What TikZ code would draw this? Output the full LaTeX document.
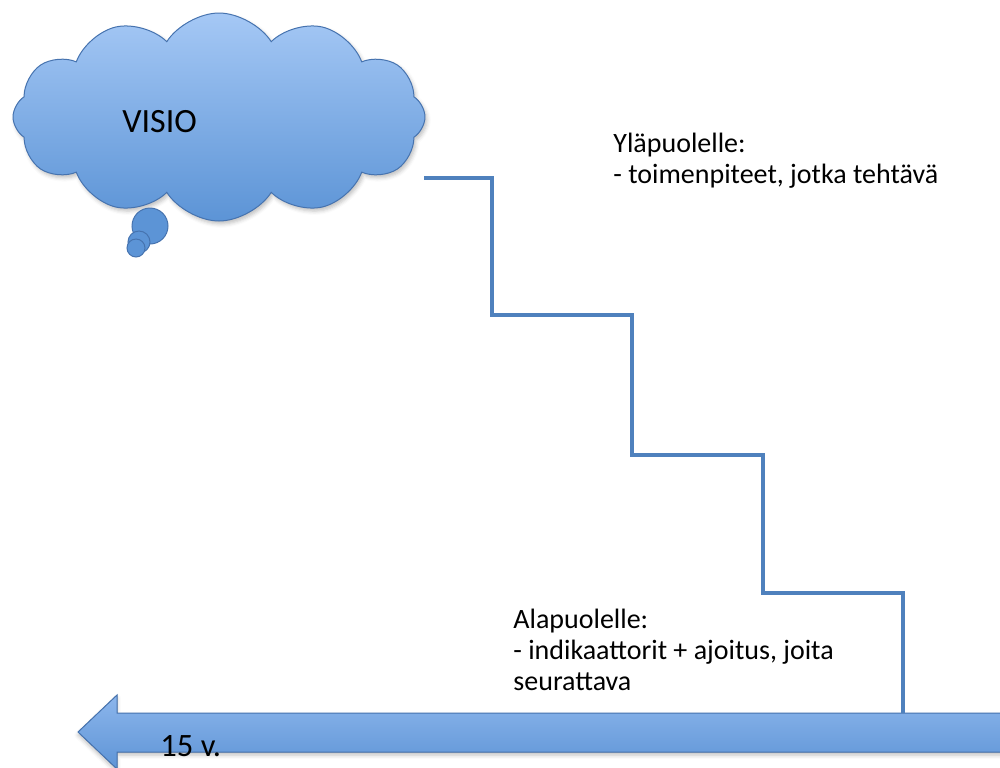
\documentclass[tikz,border=0pt]{standalone}
\usepackage{fontspec}
\setmainfont{Carlito}
\usetikzlibrary{shapes.symbols,shadows.blur}
\definecolor{lineblue}{RGB}{79,129,189}
\definecolor{edgeblue}{RGB}{70,115,175}
\definecolor{lighttop}{RGB}{165,200,245}
\definecolor{darkbottom}{RGB}{92,148,214}
\definecolor{arrowtop}{RGB}{140,182,236}
\definecolor{arrowbottom}{RGB}{94,148,214}
\tikzset{
  px/.style={x=0.5pt,y=-0.5pt},
  stair/.style={draw=lineblue,line width=1.6pt,line join=miter},
  bubble/.style={draw=edgeblue,line width=0.5pt,top color=lighttop,bottom color=darkbottom},
  tailbubble/.style={circle,draw=edgeblue,line width=0.5pt,fill=darkbottom,inner sep=0pt},
  label/.style={anchor=base west,align=left,inner sep=0pt,font=\fontsize{14}{15.5}\selectfont},
}
\begin{document}
\begin{tikzpicture}[px]
\useasboundingbox (0,0) rectangle (1000,767);

% thought cloud with its trailing bubbles
\node[cloud,cloud puffs=12,cloud puff arc=115,aspect=2.1,bubble,
      minimum width=206pt,minimum height=104pt,inner sep=0pt,
      blur shadow={shadow xshift=1pt,shadow yshift=-1.5pt,shadow opacity=25}] (cloud) at (219,117) {};
\node[tailbubble,minimum size=18pt] (b1) at (150,226) {};
\node[tailbubble,minimum size=11pt] (b2) at (139,242) {};
\node[tailbubble,minimum size=9pt] (b3) at (136,248) {};
\node[anchor=base west,inner sep=0pt,font=\fontsize{17}{20}\selectfont] (visio) at (122,132) {VISIO};

% time axis arrow pointing left
\fill[top color=arrowtop,bottom color=arrowbottom,draw=edgeblue,line width=0.5pt,
      blur shadow={shadow xshift=0pt,shadow yshift=-1.5pt,shadow opacity=25}]
  (78,732) -- (117,695) -- (117,713) -- (1005,713) -- (1005,752) -- (117,752) -- (117,769) -- cycle;
\coordinate (axis) at (903,713);
\node[anchor=base west,inner sep=0pt,font=\fontsize{16.3}{19}\selectfont] (years) at (160,756) {15 v.};

% staircase descending from the vision to the axis
\coordinate (s0) at (424,178);
\draw[stair] (s0) -- (492,178) -- (492,315) -- (632,315) -- (632,455)
  -- (763,455) -- (763,593) -- (903,593) -- (axis);

% annotations (anchored at the baseline of their last line)
\node[label] (above) at (613,183) {Yläpuolelle:\\- toimenpiteet, jotka tehtävä};
\node[label] (below) at (513,690) {Alapuolelle:\\- indikaattorit + ajoitus, joita\\seurattava};
\end{tikzpicture}
\end{document}
